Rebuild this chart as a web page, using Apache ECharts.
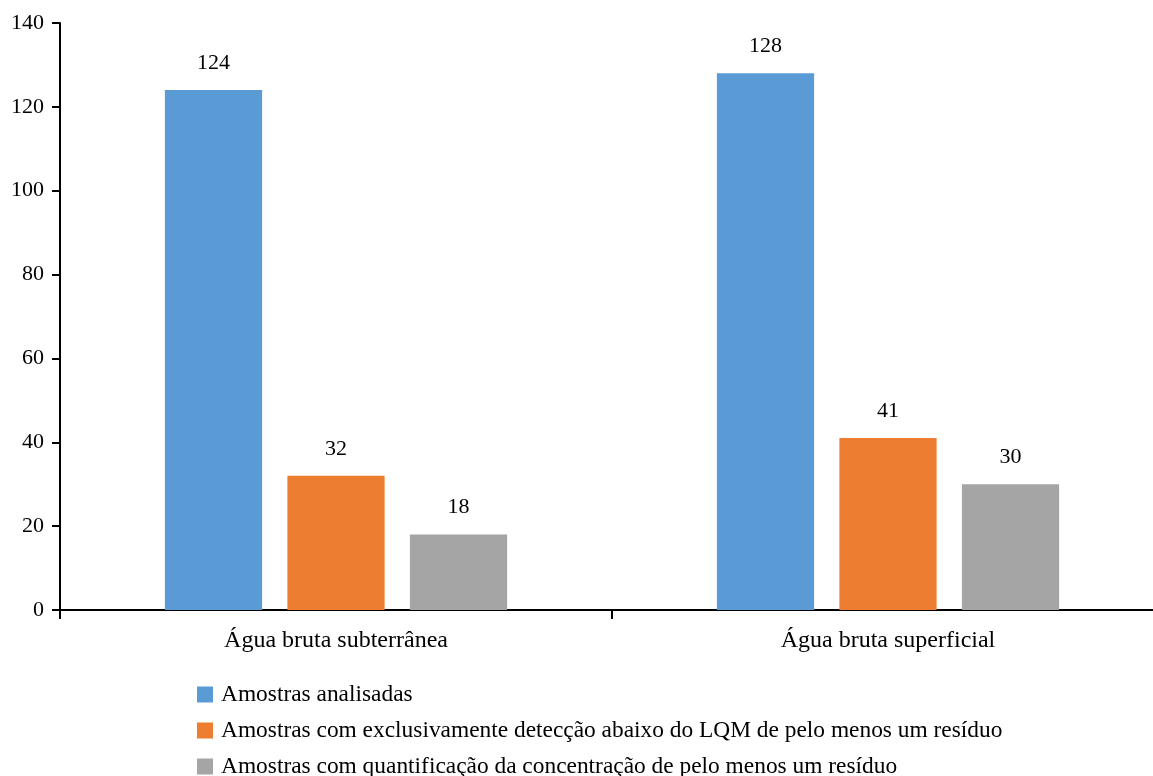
<!DOCTYPE html>
<html>
<head>
<meta charset="utf-8">
<script src="https://cdn.jsdelivr.net/npm/echarts@6/dist/echarts.min.js"></script>
<style>
  html, body { margin: 0; padding: 0; background: #fff; }
  #chart { width: 1153px; height: 776px; }
</style>
</head>
<body>
<div id="chart"></div>
<script>
// Water sample categories and the three sample counts per category
const categories = ['Água bruta subterrânea', 'Água bruta superficial'];
const seriesNames = [
  'Amostras analisadas',
  'Amostras com exclusivamente detecção abaixo do LQM de pelo menos um resíduo',
  'Amostras com quantificação da concentração de pelo menos um resíduo'
];
const analisadas = [124, 128];
const deteccao = [32, 41];
const quantificacao = [18, 30];
const yTicks = { min: 0, max: 140, interval: 20 };

const colors = ['#5B9BD5', '#ED7D31', '#A5A5A5'];
const FONT = '"Liberation Serif", "Times New Roman", serif';

const chart = echarts.init(document.getElementById('chart'), null, { renderer: 'canvas' });

const values = [analisadas, deteccao, quantificacao];

chart.setOption({
  animation: false,
  backgroundColor: '#ffffff',
  textStyle: { fontFamily: FONT },
  // plot area runs slightly past the right edge of the canvas
  grid: {
    left: 60, top: 23, width: 1104, height: 587,
    containLabel: false,
    outerBoundsMode: 'none'
  },
  legend: {
    orient: 'vertical',
    left: 197,
    top: 683,
    height: 300,
    padding: 0,
    itemWidth: 16,
    itemHeight: 16,
    itemGap: 13,
    icon: 'rect',
    textStyle: { fontFamily: FONT, fontSize: 23.4, color: '#000', padding: [0, 0, 0, 3] },
    data: seriesNames
  },
  xAxis: {
    type: 'category',
    data: categories,
    boundaryGap: true,
    axisLine: { lineStyle: { color: '#000', width: 2 } },
    axisTick: { show: true, length: 9, inside: false, lineStyle: { color: '#000', width: 2 } },
    axisLabel: { color: '#000', fontFamily: FONT, fontSize: 24, margin: 19 },
    splitLine: { show: false }
  },
  yAxis: {
    type: 'value',
    min: yTicks.min,
    max: yTicks.max,
    interval: yTicks.interval,
    axisLine: { show: true, lineStyle: { color: '#000', width: 2 } },
    axisTick: { show: true, length: 8, lineStyle: { color: '#000', width: 2 } },
    axisLabel: { color: '#000', fontFamily: FONT, fontSize: 22, margin: 16 },
    splitLine: { show: false }
  },
  series: seriesNames.map((name, i) => ({
    name: name,
    type: 'bar',
    data: values[i],
    barGap: '26%',
    barCategoryGap: '38%',
    itemStyle: { color: colors[i] },
    label: {
      show: true,
      position: 'top',
      distance: 16,
      color: '#000',
      fontFamily: FONT,
      fontSize: 22
    }
  }))
});
</script>
</body>
</html>
